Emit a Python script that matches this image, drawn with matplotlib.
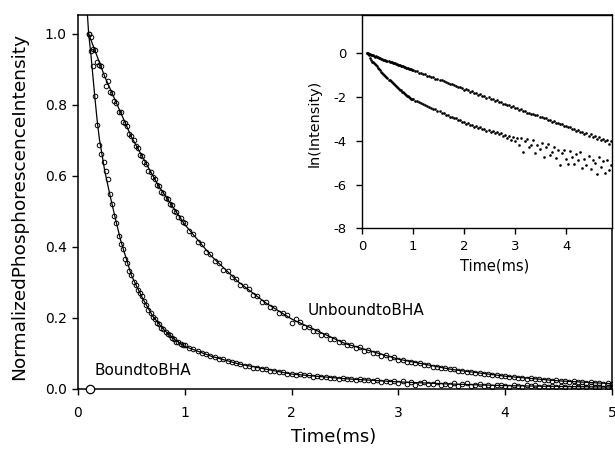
import numpy as np
import matplotlib
matplotlib.use("Agg")
import matplotlib.pyplot as plt

plt.rcParams['font.family'] = ['DejaVu Sans']
plt.rcParams['axes.unicode_minus'] = False

# ---------------------------------
# sampling times (ms)
# ---------------------------------
# 0.02 ms steps during the fast part, 0.04 ms steps afterwards
tFast = np.round(np.arange(0.10, 0.99, 0.02), 2)
tSlow = np.round(np.arange(1.00, 5.001, 0.04), 2)
time = np.concatenate([tFast, tSlow])

# ---------------------------------
# normalized phosphorescence, unbound to BHA
# ---------------------------------
unboundFast = [1.000, 0.992, 0.958, 0.955, 0.921, 0.912, 0.908, 0.884, 0.852, 0.866,
               0.836, 0.832, 0.811, 0.806, 0.781, 0.779, 0.752, 0.750, 0.741, 0.718,
               0.712, 0.701, 0.683, 0.679, 0.660, 0.655, 0.638, 0.633, 0.615, 0.612,
               0.596, 0.592, 0.575, 0.572, 0.556, 0.553, 0.538, 0.534, 0.520, 0.517,
               0.502, 0.499, 0.485, 0.482, 0.469]
unboundSlow = [0.466, 0.444, 0.437, 0.414, 0.409, 0.386, 0.381, 0.360, 0.356, 0.336,
               0.333, 0.314, 0.311, 0.293, 0.291, 0.281, 0.264, 0.262, 0.246, 0.245,
               0.230, 0.229, 0.214, 0.215, 0.207, 0.186, 0.196, 0.188, 0.174, 0.175,
               0.163, 0.163, 0.151, 0.153, 0.142, 0.142, 0.132, 0.133, 0.123, 0.125,
               0.115, 0.117, 0.107, 0.109, 0.100, 0.101, 0.094, 0.095, 0.088, 0.089,
               0.082, 0.083, 0.076, 0.077, 0.072, 0.072, 0.067, 0.067, 0.063, 0.063,
               0.059, 0.059, 0.055, 0.055, 0.051, 0.051, 0.048, 0.048, 0.044, 0.045,
               0.041, 0.042, 0.039, 0.039, 0.036, 0.037, 0.034, 0.034, 0.031, 0.032,
               0.029, 0.030, 0.027, 0.028, 0.025, 0.026, 0.023, 0.025, 0.022, 0.023,
               0.020, 0.022, 0.019, 0.020, 0.018, 0.019, 0.016, 0.018, 0.015, 0.017,
               0.015]

# ---------------------------------
# normalized phosphorescence, bound to BHA
# ---------------------------------
boundFast = [1.000, 0.952, 0.908, 0.826, 0.742, 0.688, 0.662, 0.640, 0.614, 0.590,
             0.548, 0.520, 0.488, 0.466, 0.432, 0.408, 0.394, 0.366, 0.356, 0.332,
             0.320, 0.302, 0.294, 0.278, 0.270, 0.262, 0.248, 0.236, 0.221, 0.214,
             0.202, 0.198, 0.186, 0.184, 0.172, 0.170, 0.160, 0.155, 0.151, 0.144,
             0.141, 0.133, 0.132, 0.126, 0.124]
boundSlow = [0.125, 0.115, 0.113, 0.106, 0.102, 0.099, 0.093, 0.091, 0.085, 0.084,
             0.078, 0.077, 0.072, 0.071, 0.066, 0.065, 0.060, 0.060, 0.055, 0.055,
             0.051, 0.051, 0.047, 0.047, 0.043, 0.043, 0.040, 0.041, 0.038, 0.038,
             0.035, 0.036, 0.033, 0.034, 0.031, 0.032, 0.029, 0.030, 0.028, 0.029,
             0.026, 0.027, 0.025, 0.026, 0.023, 0.024, 0.021, 0.023, 0.019, 0.022,
             0.018, 0.0213, 0.0150, 0.0210, 0.0110, 0.0181, 0.0200, 0.0138, 0.0150, 0.0191,
             0.0104, 0.0151, 0.0126, 0.0163, 0.0086, 0.0141, 0.0161, 0.0097, 0.0111, 0.0137,
             0.0083, 0.0123, 0.0062, 0.0106, 0.0123, 0.0081, 0.0065, 0.0118, 0.0089, 0.0065,
             0.0102, 0.0075, 0.0109, 0.0052, 0.0082, 0.0061, 0.0093, 0.0051, 0.0078, 0.0067,
             0.0041, 0.0087, 0.0055, 0.0074, 0.0043, 0.0076, 0.0048, 0.0061, 0.0037, 0.0067,
             0.0047]

unbound = np.array(unboundFast + unboundSlow)
bound = np.array(boundFast + boundSlow)

# ---------------------------------
# fitted decay curves
# ---------------------------------
unboundFitTime = [0.10, 0.25, 0.50, 0.75, 1.00, 1.25, 1.50, 1.75, 2.00, 2.50,
                  3.00, 3.50, 4.00, 4.50, 5.00]
unboundFit = [1.000, 0.880, 0.710, 0.574, 0.463, 0.374, 0.302, 0.244, 0.197, 0.128,
              0.084, 0.055, 0.036, 0.023, 0.015]

boundFitTime = [0.085, 0.10, 0.12, 0.14, 0.16, 0.18, 0.20, 0.25, 0.30, 0.35,
                0.40, 0.50, 0.60, 0.70, 0.80, 0.90, 1.00, 1.25, 1.50, 2.00,
                2.50, 3.00, 3.50, 4.00, 4.50, 5.00]
boundFit = [1.07, 1.00, 0.945, 0.88, 0.815, 0.755, 0.705, 0.615, 0.545, 0.480,
            0.418, 0.320, 0.258, 0.205, 0.168, 0.140, 0.120, 0.092, 0.071, 0.042,
            0.029, 0.020, 0.0138, 0.0095, 0.0072, 0.0055]

# marker sitting on the time axis
zeroTime = [0.11]
zeroValue = [0.0]

# -------------------------------------
# main panel
# -------------------------------------
fig = plt.figure(figsize=(6.15, 4.53), dpi=100)
ax = fig.add_axes([0.1268, 0.1413, 0.8683, 0.8256])

ax.plot(unboundFitTime, unboundFit, color="k", lw=0.9)
ax.plot(boundFitTime, boundFit, color="k", lw=0.9)
ax.plot(time, unbound, "o", ms=3.3, mfc="none", mec="k", mew=0.7)
ax.plot(time, bound, "o", ms=3.3, mfc="none", mec="k", mew=0.7)
ax.plot(zeroTime, zeroValue, "o", ms=6, mfc="white", mec="k", mew=0.9, clip_on=False, zorder=5)

ax.text(2.15, 0.222, "UnboundtoBHA", fontsize=11, va="center", ha="left")
ax.text(0.15, 0.052, "BoundtoBHA", fontsize=11, va="center", ha="left")

ax.set_xlim(0, 5)
ax.set_ylim(0, 1.053)
ax.set_xticks([0, 1, 2, 3, 4, 5])
ax.set_yticks([0.0, 0.2, 0.4, 0.6, 0.8, 1.0])
ax.set_yticklabels(["0.0", "0.2", "0.4", "0.6", "0.8", "1.0"])
ax.tick_params(direction="out", length=4, width=1, labelsize=10, pad=4)
ax.tick_params(axis="x", pad=8)
for s in ax.spines.values():
    s.set_linewidth(1.1)

ax.set_xlabel("Time(ms)", fontsize=13)
ax.set_ylabel("NormalizedPhosphorescenceIntensity", fontsize=13.3)
ax.xaxis.set_label_coords(0.478, -0.104)
ax.yaxis.set_label_coords(-0.094, 0.488)

# -------------------------------------
# inset: ln of the same decays
# -------------------------------------
ins = fig.add_axes([0.5886, 0.4956, 0.4065, 0.4713])
ins.plot(time, np.log(unbound), "o", ms=1.9, color="k", mew=0)
ins.plot(time, np.log(bound), "o", ms=1.9, color="k", mew=0)
ins.set_xlim(0, 4.9)
ins.set_ylim(-8, 1.75)
ins.set_xticks([0, 1, 2, 3, 4])
ins.set_yticks([0, -2, -4, -6, -8])
ins.tick_params(direction="out", length=4, width=1, labelsize=9.5)
ins.tick_params(axis="y", pad=7)
ins.tick_params(axis="x", pad=4)
for s in ins.spines.values():
    s.set_linewidth(1.0)
ins.set_xlabel("Time(ms)", fontsize=10.5)
ins.set_ylabel("ln(Intensity)", fontsize=10.4)
ins.xaxis.set_label_coords(0.532, -0.14)
ins.yaxis.set_label_coords(-0.16, 0.492)

fig.savefig("out.png", dpi=100)
